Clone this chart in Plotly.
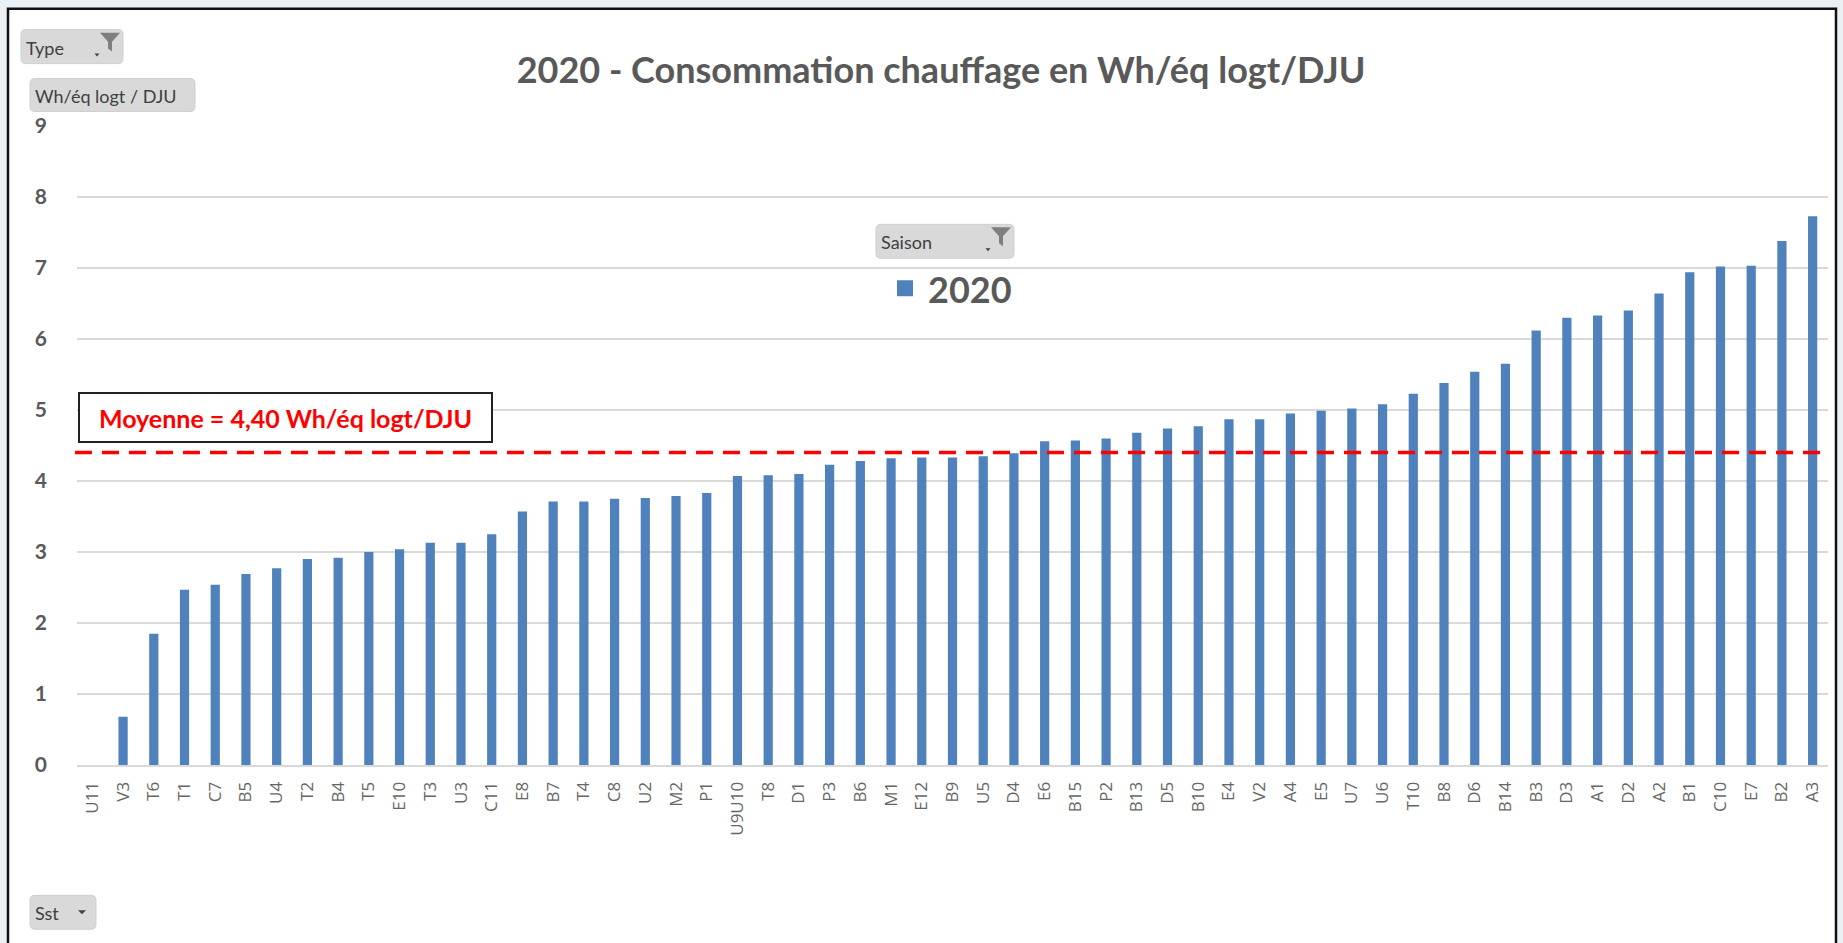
import plotly.graph_objects as go

# ---------------- data ----------------
categories = ["U11", "V3", "T6", "T1", "C7", "B5", "U4", "T2", "B4", "T5", "E10", "T3", "U3", "C11",
              "E8", "B7", "T4", "C8", "U2", "M2", "P1", "U9U10", "T8", "D1", "P3", "B6", "M1", "E12",
              "B9", "U5", "D4", "E6", "B15", "P2", "B13", "D5", "B10", "E4", "V2", "A4", "E5", "U7",
              "U6", "T10", "B8", "D6", "B14", "B3", "D3", "A1", "D2", "A2", "B1", "C10", "E7", "B2", "A3"]
values_2020 = [0.0, 0.68, 1.85, 2.47, 2.54, 2.69, 2.77, 2.90, 2.92, 3.00, 3.04, 3.13, 3.13, 3.25,
               3.57, 3.71, 3.71, 3.75, 3.76, 3.79, 3.83, 4.07, 4.08, 4.10, 4.23, 4.28, 4.32, 4.33,
               4.33, 4.35, 4.39, 4.56, 4.57, 4.60, 4.68, 4.74, 4.77, 4.87, 4.87, 4.95, 4.99, 5.02,
               5.08, 5.23, 5.38, 5.54, 5.65, 6.12, 6.30, 6.33, 6.40, 6.64, 6.94, 7.02, 7.03, 7.38, 7.73]
series_name = "2020"
mean_value = 4.40
mean_label = "Moyenne = 4,40 Wh/éq logt/DJU"
y_ticks = [0, 1, 2, 3, 4, 5, 6, 7, 8, 9]
title_text = "2020 - Consommation chauffage en Wh/éq logt/DJU"
bar_color = "#4f81bd"

# ---------------- layout geometry (pixels) ----------------
WIDTH, HEIGHT = 1843, 943
L, R, T, B = 77, 1828, 125.5, 765.5
PW, PH = R - L, B - T


def px(x):
    return (x - L) / PW


def py(y):
    return (B - y) / PH


def rounded_rect(x0, y0, x1, y1, r=5):
    pts = [
        ("M", x0 + r, y0), ("L", x1 - r, y0), ("Q", x1, y0, x1, y0 + r),
        ("L", x1, y1 - r), ("Q", x1, y1, x1 - r, y1), ("L", x0 + r, y1),
        ("Q", x0, y1, x0, y1 - r), ("L", x0, y0 + r), ("Q", x0, y0, x0 + r, y0),
    ]
    s = ""
    for p in pts:
        cmd = p[0]
        coords = p[1:]
        parts = []
        for i in range(0, len(coords), 2):
            parts.append(f"{px(coords[i]):.5f},{py(coords[i+1]):.5f}")
        s += cmd + " " + " ".join(parts) + " "
    return s + "Z"


def poly(points):
    return "M " + " L ".join(f"{px(a):.5f},{py(b):.5f}" for a, b in points) + " Z"


fig = go.Figure()
fig.add_trace(go.Bar(
    x=categories, y=values_2020, name=series_name,
    marker=dict(color=bar_color, line=dict(width=0)),
    width=0.3, showlegend=False,
))

shapes = []
# outer frame
shapes.append(dict(type="rect", xref="paper", yref="paper",
                   x0=px(8), x1=px(1836), y0=py(960), y1=py(8),
                   fillcolor="white", line=dict(color="#111111", width=2.5), layer="below"))
# mean line
shapes.append(dict(type="line", xref="paper", yref="y",
                   x0=px(75), x1=1.0, y0=mean_value, y1=mean_value,
                   line=dict(color="#ff0000", width=3.5, dash="17px,10px")))

annotations = []

# filter buttons
buttons = [
    ("Type", 21, 29, 123, 63, True, False),
    ("Wh/éq logt / DJU", 30, 78, 195, 111, False, False),
    ("Saison", 876, 224, 1014, 258, True, False),
    ("Sst", 30, 896, 96, 930, False, True),
]
for label, x0, y0, x1, y1, funnel, dropdown in buttons:
    shapes.append(dict(type="path", xref="paper", yref="paper",
                       path=rounded_rect(x0, y0, x1, y1, 5),
                       fillcolor="#d9d9d9", line=dict(color="#cfcfcf", width=1)))
    annotations.append(dict(text=label, xref="paper", yref="paper",
                            x=px(x0 + 3), y=py((y0 + y1) / 2 + 1), xanchor="left", yanchor="middle",
                            showarrow=False, font=dict(family="Lato", size=18, color="#404040")))
    if funnel:
        fx = x1 - 13
        fy = y0 + 3
        shapes.append(dict(type="path", xref="paper", yref="paper",
                           path=poly([(fx - 10, fy), (fx + 10, fy), (fx + 2, fy + 9),
                                      (fx + 2, fy + 19), (fx - 2, fy + 16), (fx - 2, fy + 9)]),
                           fillcolor="#7f7f7f", line=dict(width=0)))
        ax, ay = fx - 13, y1 - 10
        shapes.append(dict(type="path", xref="paper", yref="paper",
                           path=poly([(ax - 2.5, ay), (ax + 2.5, ay), (ax, ay + 3)]),
                           fillcolor="#404040", line=dict(width=0)))
    if dropdown:
        ax, ay = x1 - 14, (y0 + y1) / 2 - 2
        shapes.append(dict(type="path", xref="paper", yref="paper",
                           path=poly([(ax - 4, ay), (ax + 4, ay), (ax, ay + 4)]),
                           fillcolor="#404040", line=dict(width=0)))

# legend (custom, matching the large Excel legend)
shapes.append(dict(type="rect", xref="paper", yref="paper",
                   x0=px(897), x1=px(913), y0=py(296), y1=py(280),
                   fillcolor=bar_color, line=dict(width=0)))
annotations.append(dict(text="<b>" + series_name + "</b>", xref="paper", yref="paper",
                        x=px(926), y=py(289), xanchor="left", yanchor="middle", showarrow=False,
                        font=dict(family="Lato", size=36, color="#595959")))

# Moyenne box
annotations.append(dict(text="<b>" + mean_label + "</b>", xref="paper", yref="paper",
                        x=px(78), y=py(392), xanchor="left", yanchor="top",
                        showarrow=False, bgcolor="white", bordercolor="#222222", borderwidth=2,
                        borderpad=0, width=411, height=47, align="center", valign="middle",
                        font=dict(family="Lato", size=25, color="#ff0000")))

fig.update_layout(
    width=WIDTH, height=HEIGHT,
    margin=dict(l=L, r=WIDTH - R, t=T, b=HEIGHT - B, autoexpand=False),
    paper_bgcolor="#eaf0f4", plot_bgcolor="rgba(0,0,0,0)",
    title=dict(text="<b>" + title_text + "</b>", x=941 / WIDTH, xanchor="center",
               y=1 - 70 / HEIGHT, yanchor="middle",
               font=dict(family="Lato", size=36, color="#595959")),
    xaxis=dict(range=[-0.5, len(categories) - 0.5], tickangle=-90, showgrid=False,
               showline=True, linecolor="#d9d9d9", linewidth=2, ticks="",
               tickfont=dict(family="Open Sans", size=17, color="#666666"),
               ticklabelstandoff=8),
    yaxis=dict(range=[0, 9], tickvals=y_ticks, showgrid=True, gridcolor="#d9d9d9", gridwidth=1.5,
               zeroline=False, showline=False, ticks="",
               tickfont=dict(family="Lato", size=21, color="#595959", weight="bold"),
               ticklabelstandoff=29),
    shapes=shapes, annotations=annotations,
    bargap=0.7,
)

fig.write_html("out.html", config={"displayModeBar": False},
               post_script="document.body.style.margin='0px';document.body.style.overflow='hidden';")
